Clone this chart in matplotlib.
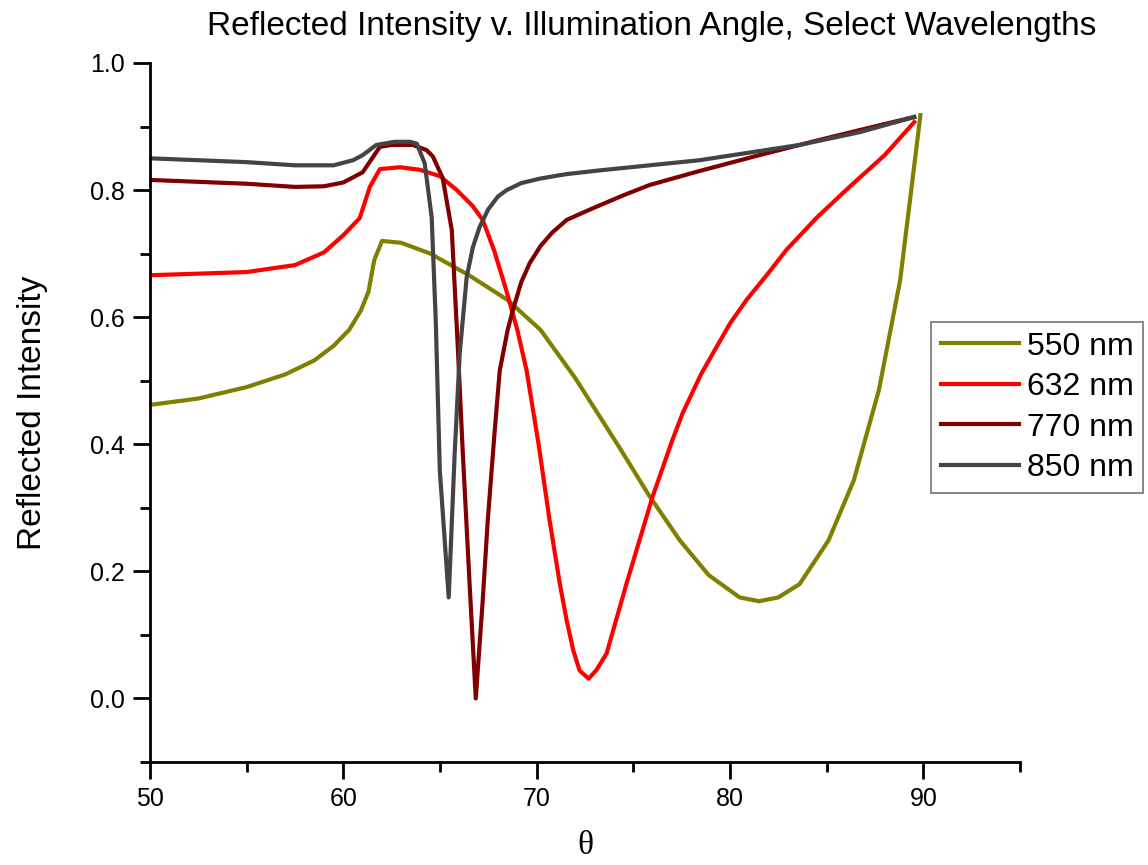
# Reflected intensity vs illumination angle for a few wavelengths
import matplotlib
matplotlib.use('Agg')
import matplotlib.pyplot as plt
from matplotlib.ticker import MultipleLocator

# == Data =====================================================
theta_550 = [50.0, 52.5, 55.0, 57.0, 58.5, 59.5, 60.3, 60.9, 61.3, 61.6,
             62.0, 63.0, 64.5, 66.5, 68.5, 70.2, 72.0, 74.3, 75.8, 77.4,
             78.9, 80.5, 81.5, 82.5, 83.6, 85.1, 86.4, 87.7, 88.8, 89.85]
r_550 = [0.462, 0.472, 0.490, 0.510, 0.532, 0.555, 0.580, 0.610, 0.640, 0.690,
         0.720, 0.717, 0.700, 0.666, 0.627, 0.580, 0.504, 0.394, 0.320, 0.249,
         0.194, 0.159, 0.153, 0.159, 0.180, 0.249, 0.343, 0.485, 0.658, 0.918]

theta_632 = [50.0, 55.0, 57.5, 59.0, 60.0, 60.85, 61.37, 61.89, 62.92, 63.95,
             64.99, 65.87, 66.69, 67.21, 67.8, 68.45, 69.0, 69.48, 70.1, 70.67,
             71.2, 71.55, 71.9, 72.22, 72.69, 73.1, 73.62, 74.65, 75.99, 77.0,
             77.55, 78.5, 79.30, 80.0, 80.85, 82.0, 82.92, 84.5, 86.18, 88.0,
             89.53]
r_632 = [0.666, 0.671, 0.682, 0.702, 0.729, 0.756, 0.805, 0.833, 0.836, 0.832,
         0.822, 0.800, 0.775, 0.753, 0.705, 0.640, 0.580, 0.516, 0.400, 0.280,
         0.180, 0.123, 0.075, 0.044, 0.031, 0.045, 0.071, 0.181, 0.317, 0.405,
         0.449, 0.510, 0.553, 0.590, 0.627, 0.670, 0.706, 0.757, 0.805, 0.855,
         0.907]

theta_770 = [50.0, 55.0, 57.5, 59.0, 60.0, 61.0, 61.89, 62.5, 63.6, 64.3,
             64.63, 65.14, 65.61, 65.92, 66.18, 66.54, 66.85, 67.2, 67.47, 67.8,
             68.09, 68.5, 68.76, 69.2, 69.64, 70.2, 70.8, 71.55, 72.5, 73.26,
             74.5, 75.84, 78.42, 81.52, 84.63, 87.73, 89.53]
r_770 = [0.816, 0.810, 0.805, 0.806, 0.812, 0.828, 0.868, 0.871, 0.871, 0.863,
         0.853, 0.819, 0.737, 0.553, 0.386, 0.175, 0.0, 0.150, 0.280, 0.410,
         0.516, 0.580, 0.610, 0.655, 0.685, 0.712, 0.733, 0.753, 0.766, 0.776,
         0.792, 0.808, 0.830, 0.855, 0.879, 0.902, 0.915]

theta_850 = [50.0, 55.0, 57.5, 59.5, 60.5, 61.0, 61.7, 62.66, 63.44, 63.8,
             64.21, 64.57, 64.78, 64.99, 65.45, 65.76, 66.02, 66.38, 66.7, 67.05,
             67.5, 68.0, 68.45, 69.2, 70.16, 71.5, 73.26, 78.42, 83.59, 86.69,
             89.53]
r_850 = [0.850, 0.844, 0.839, 0.839, 0.847, 0.855, 0.871, 0.876, 0.876, 0.873,
         0.842, 0.757, 0.595, 0.359, 0.159, 0.386, 0.543, 0.663, 0.710, 0.742,
         0.770, 0.790, 0.800, 0.811, 0.818, 0.825, 0.831, 0.847, 0.871, 0.891,
         0.915]

labels = ['550 nm', '632 nm', '770 nm', '850 nm']
colors = ['#808000', '#FF0000', '#800000', '#444444']
# =============================================================

plt.rcParams['font.family'] = ['Liberation Sans', 'DejaVu Sans']

fig = plt.figure(figsize=(11.48, 8.65), dpi=100)
ax = fig.add_axes([150 / 1148, 1 - 762 / 865, 870 / 1148, 699 / 865])

series = [(theta_550, r_550), (theta_632, r_632),
          (theta_770, r_770), (theta_850, r_850)]
for (th, r), lab, col in zip(series, labels, colors):
    ax.plot(th, r, color=col, lw=3, label=lab, solid_joinstyle='round')

ax.set_xlim(50, 95)
ax.set_ylim(-0.1, 1.0)
ax.xaxis.set_major_locator(MultipleLocator(10))
ax.xaxis.set_minor_locator(MultipleLocator(5))
ax.yaxis.set_minor_locator(MultipleLocator(0.1))
ax.set_yticks([0.0, 0.2, 0.4, 0.6, 0.8, 1.0])
ax.set_yticklabels(['0.0', '0.2', '0.4', '0.6', '0.8', '1.0'])

# Only left and bottom spines
for s in ['top', 'right']:
    ax.spines[s].set_visible(False)
for s in ['left', 'bottom']:
    ax.spines[s].set_linewidth(2)
ax.tick_params(which='major', direction='out', length=12, width=2,
               labelsize=18, pad=6)
ax.tick_params(which='minor', direction='out', length=7, width=2)

ax.set_title('Reflected Intensity v. Illumination Angle, Select Wavelengths',
             fontsize=24, x=(652 - 150) / 870, y=1.0, pad=20)
ax.set_ylabel('Reflected Intensity', fontsize=24, labelpad=30)
ax.set_xlabel('\u03b8', fontsize=24, family='Liberation Serif', labelpad=14)

leg = fig.legend(loc='upper left', bbox_to_anchor=(931 / 1148, 1 - 322 / 865),
                 fontsize=23, frameon=True, fancybox=False, handlelength=2.45,
                 handletextpad=0.25, borderpad=0.3, labelspacing=0.33,
                 borderaxespad=0)
leg.get_frame().set_edgecolor('#505050')
leg.get_frame().set_linewidth(1.2)

fig.savefig('out.png', dpi=100)
